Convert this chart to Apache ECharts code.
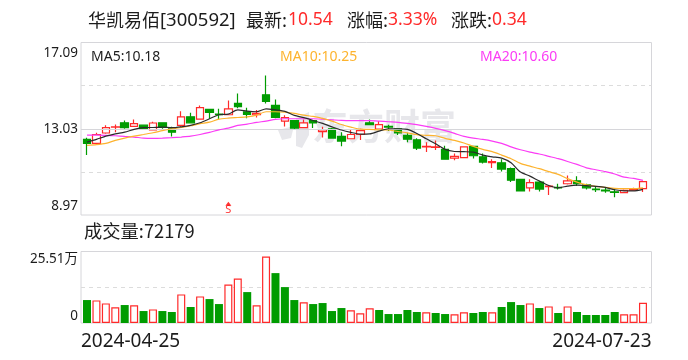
<!DOCTYPE html>
<html><head><meta charset="utf-8">
<style>html,body{margin:0;padding:0;background:#fff}#c{width:688px;height:360px}</style>
<script src="https://cdn.jsdelivr.net/npm/echarts@6/dist/echarts.min.js"></script>
</head><body><div id="c"></div>
<script>
const categories=['04-25','04-26','04-29','04-30','05-06','05-07','05-08','05-09','05-10','05-13','05-14','05-15','05-16','05-17','05-20','05-21','05-22','05-23','05-24','05-27','05-28','05-29','05-30','05-31','06-03','06-04','06-05','06-06','06-07','06-11','06-12','06-13','06-14','06-17','06-18','06-19','06-20','06-21','06-24','06-25','06-26','06-27','06-28','07-01','07-02','07-03','07-04','07-05','07-08','07-09','07-10','07-11','07-12','07-15','07-16','07-17','07-18','07-19','07-22','07-23'];
const open=[12.53,12.34,12.83,13.11,13.31,13.14,13.20,12.97,13.31,13.03,13.19,13.59,13.48,13.94,13.72,13.69,14.22,13.83,13.69,14.63,14.13,13.39,13.41,13.08,13.41,12.89,13.03,12.67,12.56,12.76,13.31,13.01,13.14,13.03,12.72,12.51,12.17,12.15,12.06,11.65,11.67,12.20,11.71,11.43,11.43,11.15,10.65,10.25,10.52,10.30,10.27,10.44,10.58,10.39,10.19,10.14,10.06,10.02,10.14,10.21];
const close=[12.34,12.76,13.08,13.12,13.08,13.27,13.00,13.30,13.09,12.87,13.59,13.31,14.02,13.80,13.69,13.97,14.07,13.70,13.75,14.32,13.56,13.55,13.06,13.31,13.30,12.98,12.59,12.45,12.76,12.94,13.22,13.22,13.11,12.83,12.54,12.12,12.20,12.18,11.60,11.73,12.18,11.76,11.46,11.48,11.13,10.61,10.10,10.49,10.19,10.33,10.24,10.58,10.44,10.25,10.16,10.11,10.03,10.13,10.19,10.54];
const low=[11.79,12.29,12.79,12.87,13.03,13.11,12.97,12.95,13.03,12.67,13.12,13.28,13.45,13.50,13.47,13.66,13.99,13.53,13.56,14.22,13.52,13.14,13.00,13.06,13.06,12.62,12.56,12.21,12.53,12.50,13.19,13.00,12.92,12.73,12.40,12.03,11.93,12.03,11.59,11.55,11.65,11.63,11.40,11.18,11.02,10.52,10.08,10.08,10.08,9.91,10.17,10.41,10.33,10.17,10.05,10.02,9.81,10.00,10.11,10.05];
const high=[12.61,12.84,13.19,13.23,13.42,13.47,13.23,13.36,13.34,13.12,13.85,13.78,14.13,13.94,13.97,14.36,14.69,14.02,13.91,15.54,14.41,13.66,13.41,13.47,13.42,13.12,13.06,12.87,13.00,13.03,13.47,13.39,13.22,13.03,12.84,12.58,12.40,12.48,12.23,11.87,12.21,12.21,11.87,11.59,11.59,11.21,10.68,10.65,10.58,10.34,10.44,10.83,10.79,10.44,10.33,10.27,10.22,10.17,10.25,10.57];
const ma5=[12.40,12.53,12.68,12.79,12.87,13.00,13.08,13.09,13.11,13.08,13.12,13.19,13.31,13.50,13.69,13.72,13.92,13.86,13.83,13.97,13.92,13.85,13.66,13.55,13.42,13.28,13.12,12.97,12.86,12.78,12.79,12.92,13.03,13.03,13.00,12.81,12.56,12.32,12.06,11.96,11.95,11.93,11.79,11.71,11.65,11.43,10.99,10.80,10.57,10.36,10.25,10.33,10.38,10.35,10.32,10.27,10.16,10.11,10.11,10.18];
const ma10=[12.25,12.28,12.34,12.48,12.59,12.68,12.76,12.84,12.94,13.03,13.09,13.17,13.27,13.34,13.48,13.53,13.56,13.59,13.67,13.83,13.83,13.81,13.75,13.67,13.61,13.52,13.39,13.23,13.11,13.01,13.00,12.98,12.97,12.90,12.84,12.75,12.72,12.70,12.58,12.48,12.36,12.20,12.06,11.95,11.79,11.62,11.40,11.27,11.15,11.01,10.88,10.68,10.52,10.39,10.32,10.27,10.22,10.21,10.21,10.25];
const ma20=[12.73,12.73,12.72,12.70,12.67,12.64,12.59,12.58,12.59,12.61,12.64,12.68,12.76,12.86,12.98,13.06,13.19,13.25,13.33,13.39,13.47,13.50,13.50,13.50,13.50,13.48,13.45,13.42,13.41,13.41,13.41,13.39,13.36,13.33,13.28,13.22,13.14,13.05,12.94,12.81,12.67,12.59,12.53,12.45,12.34,12.18,12.04,11.93,11.84,11.73,11.62,11.49,11.35,11.19,11.10,11.01,10.90,10.75,10.69,10.60];
const volume=[8.19,8.07,7.00,5.58,6.41,6.29,4.27,4.86,4.27,3.92,10.20,5.70,9.49,8.54,6.76,13.76,15.90,11.03,6.29,23.73,17.80,12.81,8.19,7.36,6.76,7.12,4.27,5.34,4.51,3.44,5.22,4.63,3.20,3.20,4.63,3.92,3.80,3.56,3.20,3.08,3.80,3.56,3.92,3.80,5.70,7.47,6.41,7.00,5.34,5.93,3.56,5.93,3.92,2.85,2.85,2.85,3.92,3.08,3.08,7.22];
const volumeUp=[0,1,1,1,0,1,0,1,0,0,1,0,1,0,0,1,1,0,1,1,0,0,0,1,0,0,0,0,1,1,1,0,0,0,0,0,1,0,0,1,1,0,0,1,0,0,0,1,0,1,0,1,0,0,0,0,0,1,1,1];
const priceTicks=[8.97,13.03,17.09];
const volumeTicks=[0,25.51];
const dateLabels=['2024-04-25','2024-07-23'];
const signalIndex=15, signalPrice=9.50;

const RED='#ff2a2a',GREEN='#009c00',FRAME='#d6d6da',DASH='#dcdcdc',INK='#1c1c1c',WM='#e7e7eb';
const FONT='"Noto Sans","Noto Sans CJK SC",sans-serif';
const CJK='"Noto Sans CJK SC","Noto Sans",sans-serif';
const chart=echarts.init(document.getElementById('c'),null,{renderer:'canvas'});
const X0=81,X1=651.5,DX0=82.3,DX1=647.7;
const frame=(top,h)=>({left:X0,width:X1-X0,top,height:h,show:true,borderColor:FRAME,borderWidth:1,backgroundColor:'transparent'});
const inner=(top,h)=>({left:DX0,width:DX1-DX0,top,height:h});
const hiddenX=(gridIndex)=>({type:'category',gridIndex,data:categories,show:false,boundaryGap:true});
const line=(name,data,color,w)=>({name,type:'line',xAxisIndex:1,yAxisIndex:1,data,showSymbol:false,symbol:'none',smooth:0.25,lineStyle:{color,width:w},z:5,silent:true,animation:false});
const candles=categories.map((_,i)=>[open[i],close[i],low[i],high[i]]);
const txt=(left,text,color,font,size,top)=>({type:'text',left,top,style:{text,fontFamily:font,fontSize:size,fill:color}});
const option={
 animation:false,
 graphic:[
  {type:'polygon',silent:true,z:0,shape:{points:[[278,130],[294,126],[291,138],[282,140]]},style:{fill:WM}},
  {type:'polygon',silent:true,z:0,shape:{points:[[296,118],[309,112],[309,135],[302,148],[296,146]]},style:{fill:WM}},
  {type:'text',left:312,top:108,z:0,silent:true,style:{text:'东方财富',fontFamily:CJK,fontWeight:'bold',fontSize:36,fill:WM}},
  txt(88,'华凯易佰',INK,CJK,18,11),
  txt(160,'[300592]',INK,FONT,18.5,11),
  txt(246,'最新:',INK,CJK,18,11),
  txt(288,'10.54',RED,FONT,17.5,11),
  txt(347,'涨幅:',INK,CJK,18,11),
  txt(388,'3.33%',RED,FONT,17.5,11),
  txt(451,'涨跌:',INK,CJK,18,11),
  txt(492,'0.34',RED,FONT,17.5,11),
  txt(91,'MA5:10.18',INK,FONT,14,50),
  txt(280,'MA10:10.25','#fdb32e',FONT,14,50),
  txt(480,'MA20:10.60','#fb3cf5',FONT,14,50),
  txt(84,'成交量:72179',INK,CJK,18.3,222)
 ],
 grid:[frame(42.5,172.5),inner(42.5,172.5),frame(251.5,71.5),inner(251.5,71.5)],
 xAxis:[
  {type:'category',gridIndex:0,data:categories,show:false},
  hiddenX(1),
  {type:'category',gridIndex:2,data:dateLabels,boundaryGap:false,axisLine:{show:false},axisTick:{show:false},
   axisLabel:{interval:0,alignMinLabel:'left',alignMaxLabel:'right',margin:9,fontFamily:FONT,fontSize:19,color:INK,showMinLabel:true,showMaxLabel:true,hideOverlap:false}},
  hiddenX(3)
 ],
 yAxis:[
  {type:'value',gridIndex:0,min:8.97,max:17.09,interval:2.03,axisLine:{show:false},axisTick:{show:false},
   splitLine:{show:true,showMinLine:false,showMaxLine:false,lineStyle:{color:DASH,type:[4,4],width:1}},
   axisLabel:{margin:3,fontFamily:FONT,fontSize:13.5,color:INK,showMinLabel:true,showMaxLabel:true,
    verticalAlignMinLabel:'bottom',verticalAlignMaxLabel:'top',
    formatter:v=>{
      if(Math.abs(v-priceTicks[2])<0.01)return '{t|'+v.toFixed(2)+'}';
      if(Math.abs(v-priceTicks[0])<0.01)return '{b|'+v.toFixed(2)+'}';
      return Math.abs(v-priceTicks[1])<0.01?v.toFixed(2):'';},
    rich:{t:{padding:[4,0,0,0],fontFamily:FONT,fontSize:13.5,color:INK},b:{padding:[0,0,2,0],fontFamily:FONT,fontSize:13.5,color:INK}}}},
  {type:'value',gridIndex:1,min:8.97,max:17.09,show:false,splitLine:{show:false}},
  {type:'value',gridIndex:2,min:0,max:25.51,interval:12.755,axisLine:{show:false},axisTick:{show:false},
   splitLine:{show:true,showMinLine:false,showMaxLine:false,lineStyle:{color:DASH,type:[4,4],width:1}},
   axisLabel:{margin:3,fontFamily:CJK,fontSize:13.5,color:INK,showMinLabel:true,showMaxLabel:true,
    verticalAlignMinLabel:'bottom',verticalAlignMaxLabel:'top',
    formatter:v=>Math.abs(v-volumeTicks[1])<0.01?'{t|'+v.toFixed(2)+'万}':(v===volumeTicks[0]?'{b|0}':''),
    rich:{t:{padding:[1,0,0,0],fontFamily:FONT,fontSize:13.5,color:INK},b:{fontFamily:FONT,fontSize:13.5,color:INK}}}},
  {type:'value',gridIndex:3,min:0,max:25.51,show:false,splitLine:{show:false}}
 ],
 series:[
  {name:'mid',type:'line',xAxisIndex:0,yAxisIndex:0,data:[],symbol:'none',silent:true,
   markLine:{silent:true,symbol:'none',label:{show:false},lineStyle:{color:FRAME,type:'solid',width:1},data:[{yAxis:priceTicks[1]}]}},
  {name:'K',type:'candlestick',xAxisIndex:1,yAxisIndex:1,data:candles,barWidth:8,z:3,silent:true,
   itemStyle:{color:'#ffffff',color0:GREEN,borderColor:RED,borderColor0:GREEN,borderWidth:1.2}},
  line('MA20',ma20,'#fb3cf5',1.2),
  line('MA10',ma10,'#fdb32e',1.2),
  line('MA5',ma5,'#2b2b2b',1.2),
  {name:'signal',type:'scatter',xAxisIndex:1,yAxisIndex:1,data:[[signalIndex,signalPrice]],symbol:'triangle',symbolSize:[6,4],silent:true,z:6,
   itemStyle:{color:'#f00'},label:{show:true,position:'bottom',distance:-1,formatter:'S',fontFamily:FONT,fontSize:11,color:'#f00'}},
  {name:'V',type:'bar',xAxisIndex:3,yAxisIndex:3,barWidth:8,silent:true,z:3,
   data:volume.map((v,i)=>({value:v,itemStyle:volumeUp[i]?{color:'#fff',borderColor:RED,borderWidth:1.2}:{color:GREEN,borderWidth:0}}))}
 ]
};
chart.setOption(option);
</script></body></html>
